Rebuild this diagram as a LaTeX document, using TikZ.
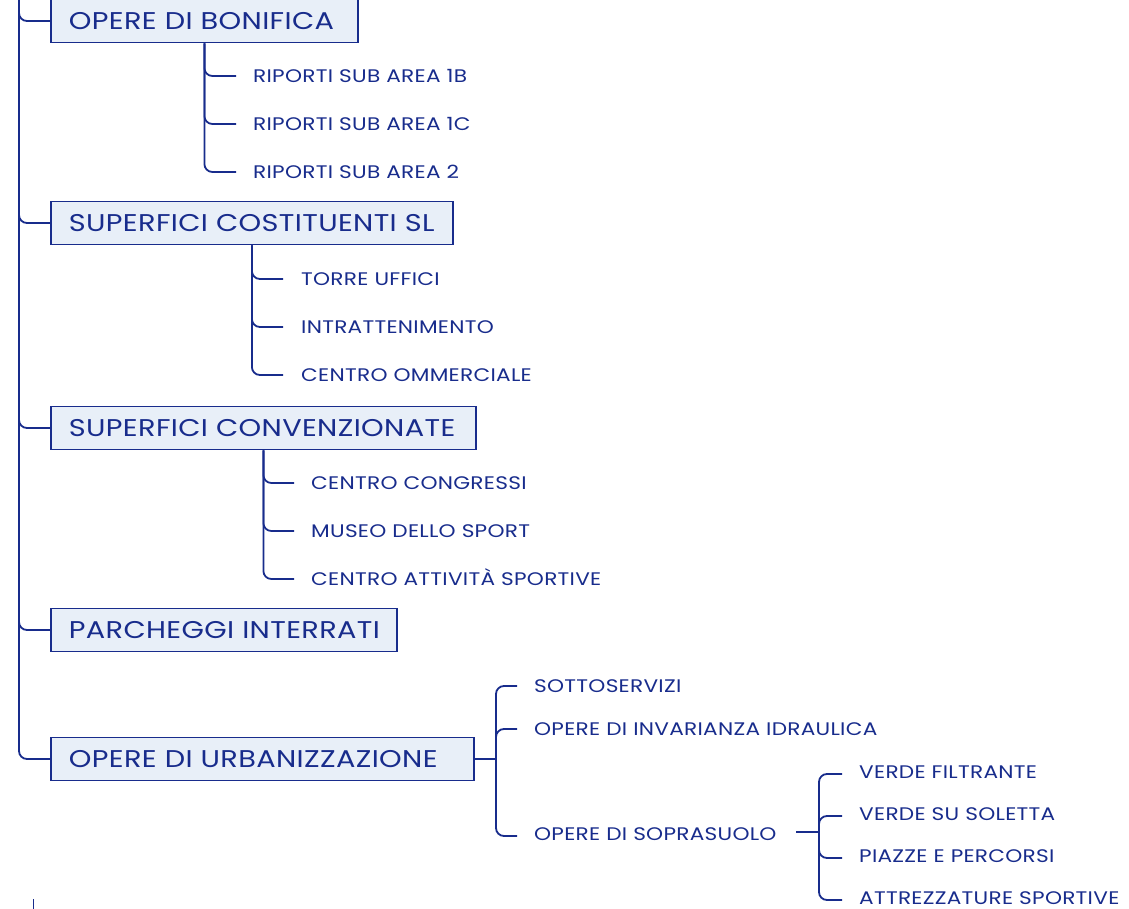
\documentclass[tikz,border=0pt]{standalone}
\usepackage{fontspec}
\setmainfont{Poppins}[FakeStretch=1.19,LetterSpace=1.5]
\definecolor{ink}{RGB}{24,44,140}
\definecolor{boxfill}{RGB}{232,239,248}
\begin{document}
\begin{tikzpicture}[x=1pt,y=-1pt,
  conn/.style={draw=ink,line width=1.8pt,rounded corners=8pt},
  mainbox/.style={draw=ink,line width=1.8pt,fill=boxfill,text=ink,anchor=west,
    minimum height=43pt,inner xsep=18pt,
    font=\fontsize{24.2}{28}\selectfont,text height=17pt,text depth=0pt},
  leaf/.style={text=ink,anchor=west,inner sep=0pt,
    font=\fontsize{18.2}{22}\selectfont,text height=12.7pt,text depth=0pt}]
\useasboundingbox (0,0) rectangle (1129,909);
% main boxes
\node[mainbox,text width=271pt] (b1) at (50,21) {\mbox{OPERE DI BONIFICA}};
\node[mainbox,text width=366pt] (b2) at (50,223) {\mbox{SUPERFICI COSTITUENTI SL}};
\node[mainbox,text width=389pt] (b3) at (50,428) {\mbox{SUPERFICI CONVENZIONATE}};
\node[mainbox,text width=310pt] (b4) at (50,630) {\mbox{PARCHEGGI INTERRATI}};
\node[mainbox,text width=387pt] (b5) at (50,759) {\mbox{OPERE DI URBANIZZAZIONE}};
% leaves
\node[leaf] (c11) at (253,76) {RIPORTI SUB AREA 1B};
\node[leaf] (c12) at (253,124) {RIPORTI SUB AREA 1C};
\node[leaf] (c13) at (253,172) {RIPORTI SUB AREA 2};
\node[leaf] (c21) at (301,279) {TORRE UFFICI};
\node[leaf] (c22) at (301,327) {INTRATTENIMENTO};
\node[leaf] (c23) at (301,375) {CENTRO OMMERCIALE};
\node[leaf] (c31) at (311,483) {CENTRO CONGRESSI};
\node[leaf] (c32) at (311,531) {MUSEO DELLO SPORT};
\node[leaf] (c33) at (311,579) {CENTRO ATTIVITÀ SPORTIVE};
\node[leaf] (u1) at (534,686) {SOTTOSERVIZI};
\node[leaf] (u2) at (534,729) {OPERE DI INVARIANZA IDRAULICA};
\node[leaf] (u3) at (534,834) {OPERE DI SOPRASUOLO};
\node[leaf] (v1) at (859,772) {VERDE FILTRANTE};
\node[leaf] (v2) at (859,814) {VERDE SU SOLETTA};
\node[leaf] (v3) at (859,856) {PIAZZE E PERCORSI};
\node[leaf] (v4) at (859,898) {ATTREZZATURE SPORTIVE};
% trunk
\draw[conn] (19,-2) |- (b5.west);
\draw[conn] (19,5) |- (b1.west);
\draw[conn] (19,200) |- (b2.west);
\draw[conn] (19,405) |- (b3.west);
\draw[conn] (19,607) |- (b4.west);
% sub-branches
\foreach \c in {c11,c12,c13} \draw[conn] (b1.south) |- ([xshift=-17pt]\c.west);
\foreach \c in {c21,c22,c23} \draw[conn] (b2.south) |- ([xshift=-18pt]\c.west);
\foreach \c in {c31,c32,c33} \draw[conn] (b3.south) |- ([xshift=-17pt]\c.west);
\coordinate (u) at (496,759);
\draw[conn] (b5.east) -- (u);
\draw[conn] (u) |- ([xshift=-17pt]u1.west);
\draw[conn] (u) |- ([xshift=-17pt]u2.west);
\draw[conn] (u) |- ([xshift=-17pt,yshift=-2pt]u3.west);
\coordinate (sl) at (796,832);
\coordinate (s) at (819,832);
\draw[conn] (sl) -- (s);
\foreach \c in {v1,v2,v3,v4} \draw[conn] (s) |- ([xshift=-17pt,yshift=-2pt]\c.west);
% cut-off tick at bottom
\coordinate (t1) at (33,899);
\coordinate (t2) at (33,909);
\draw[draw=ink,line width=1pt] (t1) -- (t2);
\end{tikzpicture}
\end{document}
